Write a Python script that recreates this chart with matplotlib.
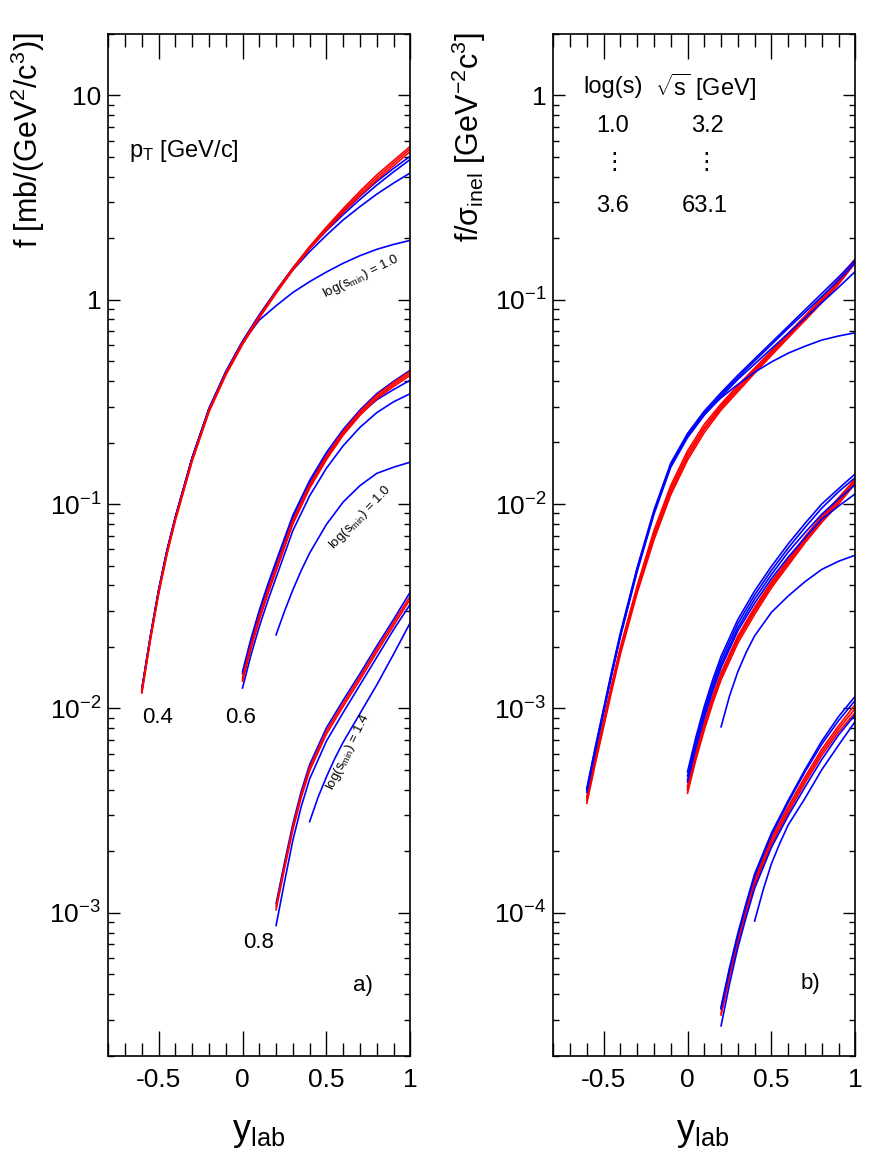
import numpy as np
import matplotlib
matplotlib.use('Agg')
import matplotlib.pyplot as plt
from matplotlib.ticker import FixedLocator, FixedFormatter, LogLocator, NullFormatter, FuncFormatter, MultipleLocator

plt.rcParams['font.family'] = ['Liberation Sans', 'DejaVu Sans']
plt.rcParams['mathtext.fontset'] = 'custom'
plt.rcParams['mathtext.rm'] = 'Liberation Sans'
plt.rcParams['mathtext.it'] = 'Liberation Sans'
plt.rcParams['mathtext.bf'] = 'Liberation Sans:bold'

# y_lab grids (finer near the kinematic start of each curve)
X_M06 = [-0.6, -0.55, -0.5, -0.45, -0.4, -0.3, -0.2, -0.1, 0.0, 0.1, 0.2, 0.3, 0.4, 0.5, 0.6, 0.7, 0.8, 0.9, 1.0]
X_00 = [0.0, 0.05, 0.1, 0.15, 0.2, 0.3, 0.4, 0.5, 0.6, 0.7, 0.8, 0.9, 1.0]
X_02 = [0.2, 0.25, 0.3, 0.35, 0.4, 0.5, 0.6, 0.7, 0.8, 0.9, 1.0]
X_04 = [0.4, 0.45, 0.5, 0.55, 0.6, 0.7, 0.8, 0.9, 1.0]

# values are log10 of the plotted quantity
# --- a) f [mb/(GeV^2/c^3)] ---
# pT = 0.4
L04_B1 = [-1.905, -1.65, -1.42, -1.225, -1.062, -0.772, -0.533, -0.353, -0.204, -0.075, 0.043, 0.155, 0.256, 0.345, 0.428, 0.505, 0.578, 0.642, 0.702]
L04_B2 = [-1.905, -1.65, -1.42, -1.225, -1.062, -0.772, -0.533, -0.353, -0.204, -0.075, 0.043, 0.153, 0.25, 0.337, 0.416, 0.49, 0.56, 0.625, 0.686]
L04_B3 = [-1.91, -1.655, -1.425, -1.23, -1.066, -0.776, -0.537, -0.357, -0.207, -0.078, 0.038, 0.145, 0.235, 0.315, 0.39, 0.455, 0.516, 0.57, 0.62]
L04_DEV = [-1.91, -1.655, -1.425, -1.23, -1.066, -0.776, -0.537, -0.357, -0.21, -0.10, -0.03, 0.035, 0.088, 0.135, 0.178, 0.215, 0.246, 0.27, 0.29]
L04_R1 = [-1.916, -1.66, -1.43, -1.235, -1.07, -0.78, -0.54, -0.36, -0.21, -0.08, 0.04, 0.155, 0.26, 0.355, 0.445, 0.53, 0.61, 0.68, 0.75]
L04_R2 = [-1.92, -1.665, -1.435, -1.24, -1.075, -0.785, -0.545, -0.365, -0.215, -0.085, 0.035, 0.15, 0.255, 0.348, 0.436, 0.518, 0.597, 0.668, 0.738]
L04_R3 = [-1.925, -1.67, -1.44, -1.245, -1.08, -0.79, -0.55, -0.37, -0.22, -0.09, 0.03, 0.145, 0.249, 0.341, 0.427, 0.507, 0.585, 0.655, 0.725]
# pT = 0.6
L06_B1 = [-1.82, -1.66, -1.52, -1.395, -1.28, -1.055, -0.885, -0.748, -0.635, -0.54, -0.46, -0.40, -0.345]
L06_B2 = [-1.83, -1.67, -1.53, -1.405, -1.29, -1.065, -0.895, -0.76, -0.65, -0.56, -0.49, -0.44, -0.394]
L06_B3 = [-1.90, -1.74, -1.60, -1.475, -1.36, -1.13, -0.96, -0.825, -0.715, -0.625, -0.553, -0.50, -0.46]
L06_R1 = [-1.85, -1.69, -1.55, -1.425, -1.31, -1.08, -0.905, -0.765, -0.645, -0.548, -0.467, -0.405, -0.35]
L06_R2 = [-1.86, -1.70, -1.56, -1.435, -1.32, -1.09, -0.915, -0.775, -0.655, -0.558, -0.477, -0.415, -0.36]
L06_R3 = [-1.867, -1.708, -1.568, -1.443, -1.328, -1.098, -0.923, -0.783, -0.663, -0.566, -0.485, -0.425, -0.37]
L06_DEV = [-1.64, -1.525, -1.42, -1.325, -1.24, -1.10, -0.99, -0.91, -0.85, -0.82, -0.795]
# pT = 0.8
L08_B1 = [-2.955, -2.755, -2.565, -2.405, -2.275, -2.095, -1.96, -1.83, -1.695, -1.565, -1.43]
L08_B2 = [-3.062, -2.85, -2.645, -2.48, -2.345, -2.16, -2.02, -1.885, -1.75, -1.615, -1.49]
L08_R1 = [-2.97, -2.77, -2.58, -2.42, -2.29, -2.11, -1.975, -1.845, -1.71, -1.58, -1.45]
L08_R2 = [-2.985, -2.785, -2.595, -2.435, -2.305, -2.125, -1.99, -1.86, -1.725, -1.595, -1.465]
L08_DEV = [-2.554, -2.435, -2.335, -2.245, -2.165, -2.025, -1.885, -1.735, -1.58]

# --- b) f/sigma_inel [GeV^-2 c^3] ---
R04_B1 = [-3.39, -3.19, -3.00, -2.81, -2.63, -2.31, -2.03, -1.80, -1.655, -1.545, -1.455, -1.37, -1.29, -1.21, -1.13, -1.05, -0.97, -0.89, -0.805]
R04_B2 = [-3.40, -3.20, -3.01, -2.82, -2.64, -2.32, -2.04, -1.81, -1.665, -1.555, -1.465, -1.38, -1.30, -1.22, -1.14, -1.063, -0.985, -0.905, -0.82]
R04_B3 = [-3.41, -3.21, -3.02, -2.83, -2.65, -2.33, -2.05, -1.82, -1.675, -1.565, -1.475, -1.39, -1.315, -1.24, -1.165, -1.09, -1.015, -0.94, -0.862]
R04_DEV = [-3.40, -3.20, -3.01, -2.82, -2.64, -2.32, -2.04, -1.81, -1.665, -1.56, -1.48, -1.415, -1.355, -1.305, -1.262, -1.228, -1.198, -1.178, -1.162]
R04_R1 = [-3.43, -3.24, -3.06, -2.875, -2.70, -2.40, -2.13, -1.91, -1.74, -1.61, -1.51, -1.42, -1.335, -1.25, -1.165, -1.08, -0.99, -0.90, -0.80]
R04_R2 = [-3.44, -3.25, -3.07, -2.885, -2.71, -2.41, -2.145, -1.925, -1.755, -1.625, -1.52, -1.43, -1.343, -1.257, -1.172, -1.088, -1.0, -0.91, -0.81]
R04_R3 = [-3.45, -3.26, -3.08, -2.895, -2.72, -2.42, -2.16, -1.94, -1.77, -1.635, -1.53, -1.44, -1.352, -1.265, -1.18, -1.095, -1.008, -0.918, -0.815]
R04_R4 = [-3.464, -3.272, -3.09, -2.908, -2.735, -2.435, -2.175, -1.955, -1.785, -1.65, -1.54, -1.45, -1.36, -1.273, -1.187, -1.102, -1.015, -0.925, -0.82]

R06_B1 = [-3.31, -3.14, -2.99, -2.86, -2.745, -2.565, -2.425, -2.305, -2.195, -2.095, -2.0, -1.925, -1.852]
R06_B2 = [-3.33, -3.16, -3.01, -2.88, -2.765, -2.585, -2.445, -2.325, -2.215, -2.115, -2.02, -1.94, -1.87]
R06_B3 = [-3.35, -3.18, -3.03, -2.90, -2.785, -2.605, -2.465, -2.345, -2.235, -2.14, -2.05, -1.975, -1.905]
R06_B4 = [-3.36, -3.19, -3.045, -2.915, -2.80, -2.62, -2.485, -2.365, -2.26, -2.165, -2.075, -2.01, -1.95]
R06_R1 = [-3.38, -3.215, -3.07, -2.94, -2.825, -2.645, -2.505, -2.38, -2.27, -2.16, -2.06, -1.97, -1.877]
R06_R2 = [-3.39, -3.225, -3.08, -2.95, -2.835, -2.655, -2.515, -2.39, -2.28, -2.17, -2.07, -1.98, -1.885]
R06_R3 = [-3.40, -3.235, -3.09, -2.96, -2.845, -2.665, -2.525, -2.40, -2.29, -2.18, -2.08, -1.99, -1.893]
R06_R4 = [-3.415, -3.25, -3.105, -2.975, -2.86, -2.68, -2.54, -2.41, -2.30, -2.19, -2.09, -2.00, -1.90]
R06_DEV = [-3.09, -2.94, -2.82, -2.725, -2.645, -2.53, -2.45, -2.38, -2.32, -2.28, -2.25]

R08_B1 = [-4.46, -4.27, -4.10, -3.95, -3.81, -3.61, -3.45, -3.30, -3.16, -3.04, -2.94]
R08_B2 = [-4.47, -4.28, -4.11, -3.96, -3.82, -3.62, -3.46, -3.31, -3.175, -3.06, -2.96]
R08_B3 = [-4.553, -4.35, -4.17, -4.02, -3.88, -3.68, -3.525, -3.385, -3.25, -3.13, -3.03]
R08_R1 = [-4.47, -4.285, -4.12, -3.97, -3.835, -3.635, -3.48, -3.335, -3.20, -3.085, -2.98]
R08_R2 = [-4.49, -4.305, -4.135, -3.985, -3.85, -3.65, -3.495, -3.35, -3.215, -3.10, -3.00]
R08_R3 = [-4.50, -4.315, -4.15, -4.00, -3.865, -3.665, -3.51, -3.365, -3.23, -3.115, -3.02]
R08_DEV = [-4.04, -3.89, -3.76, -3.66, -3.57, -3.44, -3.30, -3.18, -3.063]

BLUE = '#0000ff'
RED = '#ff0000'

left_curves = [
    (X_M06, L04_DEV, BLUE), (X_M06, L04_B3, BLUE), (X_M06, L04_B2, BLUE), (X_M06, L04_B1, BLUE),
    (X_M06, L04_R3, RED), (X_M06, L04_R2, RED), (X_M06, L04_R1, RED),
    (X_02, L06_DEV, BLUE), (X_00, L06_B3, BLUE), (X_00, L06_B2, BLUE), (X_00, L06_B1, BLUE),
    (X_00, L06_R3, RED), (X_00, L06_R2, RED), (X_00, L06_R1, RED),
    (X_04, L08_DEV, BLUE), (X_02, L08_B2, BLUE), (X_02, L08_B1, BLUE),
    (X_02, L08_R2, RED), (X_02, L08_R1, RED),
]
right_curves = [
    (X_M06, R04_R4, RED), (X_M06, R04_R3, RED), (X_M06, R04_R2, RED), (X_M06, R04_R1, RED),
    (X_M06, R04_DEV, BLUE), (X_M06, R04_B3, BLUE), (X_M06, R04_B2, BLUE), (X_M06, R04_B1, BLUE),
    (X_00, R06_R4, RED), (X_00, R06_R3, RED), (X_00, R06_R2, RED), (X_00, R06_R1, RED),
    (X_02, R06_DEV, BLUE), (X_00, R06_B4, BLUE), (X_00, R06_B3, BLUE), (X_00, R06_B2, BLUE), (X_00, R06_B1, BLUE),
    (X_02, R08_R3, RED), (X_02, R08_R2, RED), (X_02, R08_R1, RED),
    (X_04, R08_DEV, BLUE), (X_02, R08_B3, BLUE), (X_02, R08_B2, BLUE), (X_02, R08_B1, BLUE),
]

W, H = 872, 1160


def fx(px):
    return px / W


def fy(py):
    return 1 - py / H


def log_label(v, pos):
    e = int(round(np.log10(v)))
    if e == 0:
        return '1'
    if e == 1:
        return '10'
    return r'$10^{%d}$' % e


def style_axes(ax, ylim):
    ax.set_xlim(-0.8, 1.0)
    ax.set_yscale('log')
    ax.set_ylim(*ylim)
    ax.xaxis.set_major_locator(FixedLocator([-0.5, 0, 0.5, 1]))
    ax.xaxis.set_major_formatter(FixedFormatter(['-0.5', '0', '0.5', '1']))
    ax.xaxis.set_minor_locator(MultipleLocator(0.1))
    ax.yaxis.set_major_locator(LogLocator(base=10, numticks=20))
    ax.yaxis.set_major_formatter(FuncFormatter(log_label))
    ax.yaxis.set_minor_locator(LogLocator(base=10, subs=np.arange(2, 10), numticks=20))
    ax.yaxis.set_minor_formatter(NullFormatter())
    ax.tick_params(which='both', direction='in', top=True, right=True, width=1.0, labelsize=19)
    ax.tick_params(axis='x', which='major', length=18, pad=9)
    ax.tick_params(axis='x', which='minor', length=9.4)
    ax.tick_params(axis='y', which='major', length=8.6, pad=5)
    ax.tick_params(axis='y', which='minor', length=4.3)
    for sp in ax.spines.values():
        sp.set_linewidth(1.2)


def draw_curves(ax, curves):
    for xs, vals, col in curves:
        ax.plot(xs, 10 ** np.array(vals), color=col, lw=1.2)


fig = plt.figure(figsize=(8.72, 11.6), dpi=100)
axl = fig.add_axes([fx(108.3), fy(1055.7), 302 / W, (1055.7 - 33.7) / H])
axr = fig.add_axes([fx(553.3), fy(1055.7), 302 / W, (1055.7 - 33.7) / H])

draw_curves(axl, left_curves)
draw_curves(axr, right_curves)
style_axes(axl, (2e-4, 20))
style_axes(axr, (2e-5, 2))

# axis titles
fig.text(fx(28), fy(32), r'f [mb/(GeV$^2$/c$^3$)]', rotation=90, ha='center', va='top', fontsize=22)
fig.text(fx(469), fy(32), r'f/$\sigma_{\rm inel}$ [GeV$^{-2}$c$^3$]', rotation=90, ha='center', va='top', fontsize=22)
fig.text(fx(259), fy(1133), r'y$_{\rm lab}$', ha='center', va='center', fontsize=26)
fig.text(fx(703), fy(1133), r'y$_{\rm lab}$', ha='center', va='center', fontsize=26)

# panel a) annotations
fig.text(fx(129), fy(151), r'p$_{\rm T}$ [GeV/c]', ha='left', va='center', fontsize=17)
for lab, px, py in [('0.4', 157.5, 717.5), ('0.6', 241, 717.5), ('0.8', 259, 942.5)]:
    fig.text(fx(px), fy(py), lab, ha='center', va='center', fontsize=16)
fig.text(fx(363), fy(986), 'a)', ha='center', va='center', fontsize=16)
for lab, px, py, rot in [('1.0', 361, 276, 26), ('1.0', 360, 517, 46), ('1.4', 348, 752, 64)]:
    fig.text(fx(px), fy(py), r'log(s$_{\rm min}$) = ' + lab, ha='center', va='center',
             fontsize=9.5, rotation=rot, rotation_mode='anchor')

# panel b) annotations
for lab, px, py in [('log(s)', 613, 87), (r'$\sqrt{\rm s}$ [GeV]', 706, 87),
                    ('1.0', 613, 126), ('3.2', 707, 126),
                    ('\u22ee', 614, 163), ('\u22ee', 706, 163),
                    ('3.6', 613, 206), ('63.1', 705, 206)]:
    fig.text(fx(px), fy(py), lab, ha='center', va='center', fontsize=17)
fig.text(fx(810), fy(984), 'b)', ha='center', va='center', fontsize=16)

fig.savefig('out.png', dpi=100)
